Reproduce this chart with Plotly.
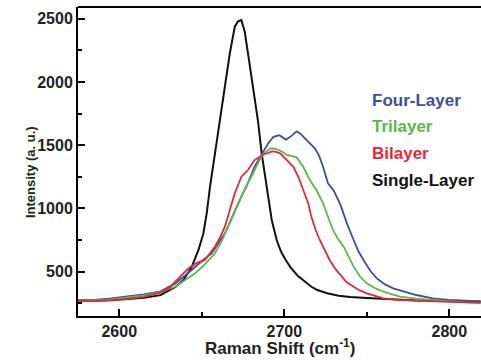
import plotly.graph_objects as go

# ---- data ----
single_x = [2575, 2585, 2595, 2605, 2615, 2625, 2634, 2639, 2644, 2648, 2651, 2653, 2655, 2658,
            2661, 2664, 2667, 2670, 2672, 2674, 2676, 2678, 2681, 2684, 2686.3, 2689.3, 2692.4,
            2695.4, 2698, 2700.5, 2704, 2708, 2712, 2716, 2720, 2726, 2733, 2740, 2750, 2760,
            2770, 2780, 2790, 2800, 2810, 2819]
single_y = [272, 270, 275, 284, 295, 315, 380, 435, 540, 672, 804, 962, 1172, 1436,
            1699, 1963, 2227, 2437, 2480, 2490, 2400, 2227, 1963, 1699, 1436, 1172, 909,
            751, 660, 600, 530, 470, 430, 385, 355, 330, 310, 300, 292, 284,
            276, 273, 270, 268, 266, 265]

bi_x = [2575, 2585, 2595, 2605, 2615, 2625, 2630, 2634, 2638, 2642, 2647, 2652, 2658,
        2661, 2664, 2667, 2670, 2674, 2678, 2682, 2685, 2688, 2690, 2692.5, 2694.5,
        2697.5, 2699.5, 2701.5, 2703.5, 2705.5, 2708.5, 2711.5, 2714.5, 2716.5, 2719, 2721.5,
        2724.5, 2727.5, 2730.5, 2734, 2737.5, 2742, 2746, 2750, 2755, 2760, 2770, 2780, 2790,
        2800, 2810, 2819]
bi_y = [270, 268, 275, 285, 302, 335, 370, 420, 470, 527, 570, 593, 700,
        770, 856, 980, 1120, 1251, 1304, 1383, 1409, 1432, 1438, 1452, 1449,
        1436, 1410, 1383, 1355, 1330, 1251, 1146, 1041, 930, 830, 751,
        670, 593, 530, 474, 420, 382, 350, 329, 308, 290, 278, 271, 266,
        262, 258, 255]

tri_x = [2575, 2585, 2595, 2605, 2615, 2625, 2634, 2640, 2646, 2652, 2658, 2662,
         2666, 2670, 2674, 2677, 2680, 2683, 2686, 2689, 2692, 2694.5, 2698, 2701.5,
         2704, 2707.5, 2711.5, 2715.5, 2719.5, 2723.5, 2726.5, 2729.5, 2732.5, 2736, 2742,
         2746, 2750, 2755, 2760, 2770, 2780, 2790, 2800, 2810, 2819]
tri_y = [272, 272, 282, 295, 312, 340, 382, 435, 488, 560, 646, 740,
         856, 980, 1096, 1180, 1251, 1330, 1409, 1450, 1476, 1472, 1455, 1423,
         1415, 1404, 1330, 1225, 1146, 1041, 935, 830, 760, 698, 540,
         460, 408, 370, 342, 303, 288, 276, 265, 258, 252]

four_x = [2575, 2585, 2595, 2605, 2615, 2625, 2634, 2640, 2646, 2651, 2656, 2660,
          2664, 2668, 2671, 2674, 2677, 2680, 2682, 2685, 2688, 2690.5, 2693.5, 2697, 2701,
          2704, 2707.5, 2710, 2712.5, 2715, 2718.5, 2721, 2723.5, 2726.5, 2730, 2734, 2738,
          2742, 2745, 2748, 2752, 2756, 2761, 2766, 2773, 2780, 2790, 2800, 2810, 2819]
four_y = [275, 278, 290, 305, 320, 345, 408, 470, 540, 595, 646, 720,
          804, 920, 1014, 1095, 1172, 1260, 1330, 1400, 1462, 1520, 1567, 1580, 1545,
          1570, 1610, 1590, 1555, 1520, 1476, 1420, 1330, 1199, 1140, 1030, 880,
          751, 660, 593, 510, 448, 400, 369, 340, 316, 290, 278, 272, 266]

series_names = ["Four-Layer", "Trilayer", "Bilayer", "Single-Layer"]
series_colors = ["#3d4f9f", "#5cb848", "#e8283a", "#111111"]
x_title = "Raman Shift (cm<sup>-1</sup>)"
y_title = "Intensity (a. u.)"

FONT = "Arial, Liberation Sans, sans-serif"

fig = go.Figure()
for xs, ys, col, w in [(single_x, single_y, series_colors[3], 2.0),
                       (four_x, four_y, series_colors[0], 1.8),
                       (tri_x, tri_y, series_colors[1], 1.8),
                       (bi_x, bi_y, series_colors[2], 1.8)]:
    fig.add_trace(go.Scatter(x=xs, y=ys, mode="lines",
                             line=dict(color=col, width=w), showlegend=False))

axis_common = dict(showgrid=False, zeroline=False, showline=True, linecolor="black",
                   linewidth=2, ticks="inside", ticklen=7, tickwidth=2, tickcolor="black",
                   tickfont=dict(family=FONT, size=16, color="#222", weight="bold"))

fig.update_xaxes(range=[2575, 2819.2], dtick=100, tick0=2600,
                 minor=dict(dtick=50, ticks="inside", ticklen=4, tickwidth=2, tickcolor="black"),
                 **axis_common)
fig.update_yaxes(range=[150, 2593], dtick=500, tick0=500,
                 minor=dict(dtick=250, ticks="inside", ticklen=4, tickwidth=2, tickcolor="black"),
                 **axis_common)

# top border
fig.add_shape(type="line", xref="paper", yref="paper", x0=0, x1=1, y0=1, y1=1,
              line=dict(color="black", width=2))

label_y = [0.699, 0.612, 0.526, 0.440]
for name, col, yy in zip(series_names, series_colors, label_y):
    fig.add_annotation(text=name, xref="paper", yref="paper", x=0.7246, y=yy,
                       xanchor="left", yanchor="middle", showarrow=False,
                       font=dict(family=FONT, size=17, color=col, weight="bold"))

fig.add_annotation(text=x_title, xref="paper", yref="paper", x=0.501, y=-0.100,
                   xanchor="center", yanchor="middle", showarrow=False,
                   font=dict(family=FONT, size=17, color="#222", weight="bold"))
fig.add_annotation(text=y_title, xref="paper", yref="paper", x=-0.119, y=0.466,
                   xanchor="center", yanchor="middle", showarrow=False, textangle=-90,
                   font=dict(family=FONT, size=13, color="#222", weight="bold"))

fig.update_layout(width=481, height=360, margin=dict(l=78, r=0, t=7, b=44),
                  plot_bgcolor="white", paper_bgcolor="white")

fig.write_html("out.html")
